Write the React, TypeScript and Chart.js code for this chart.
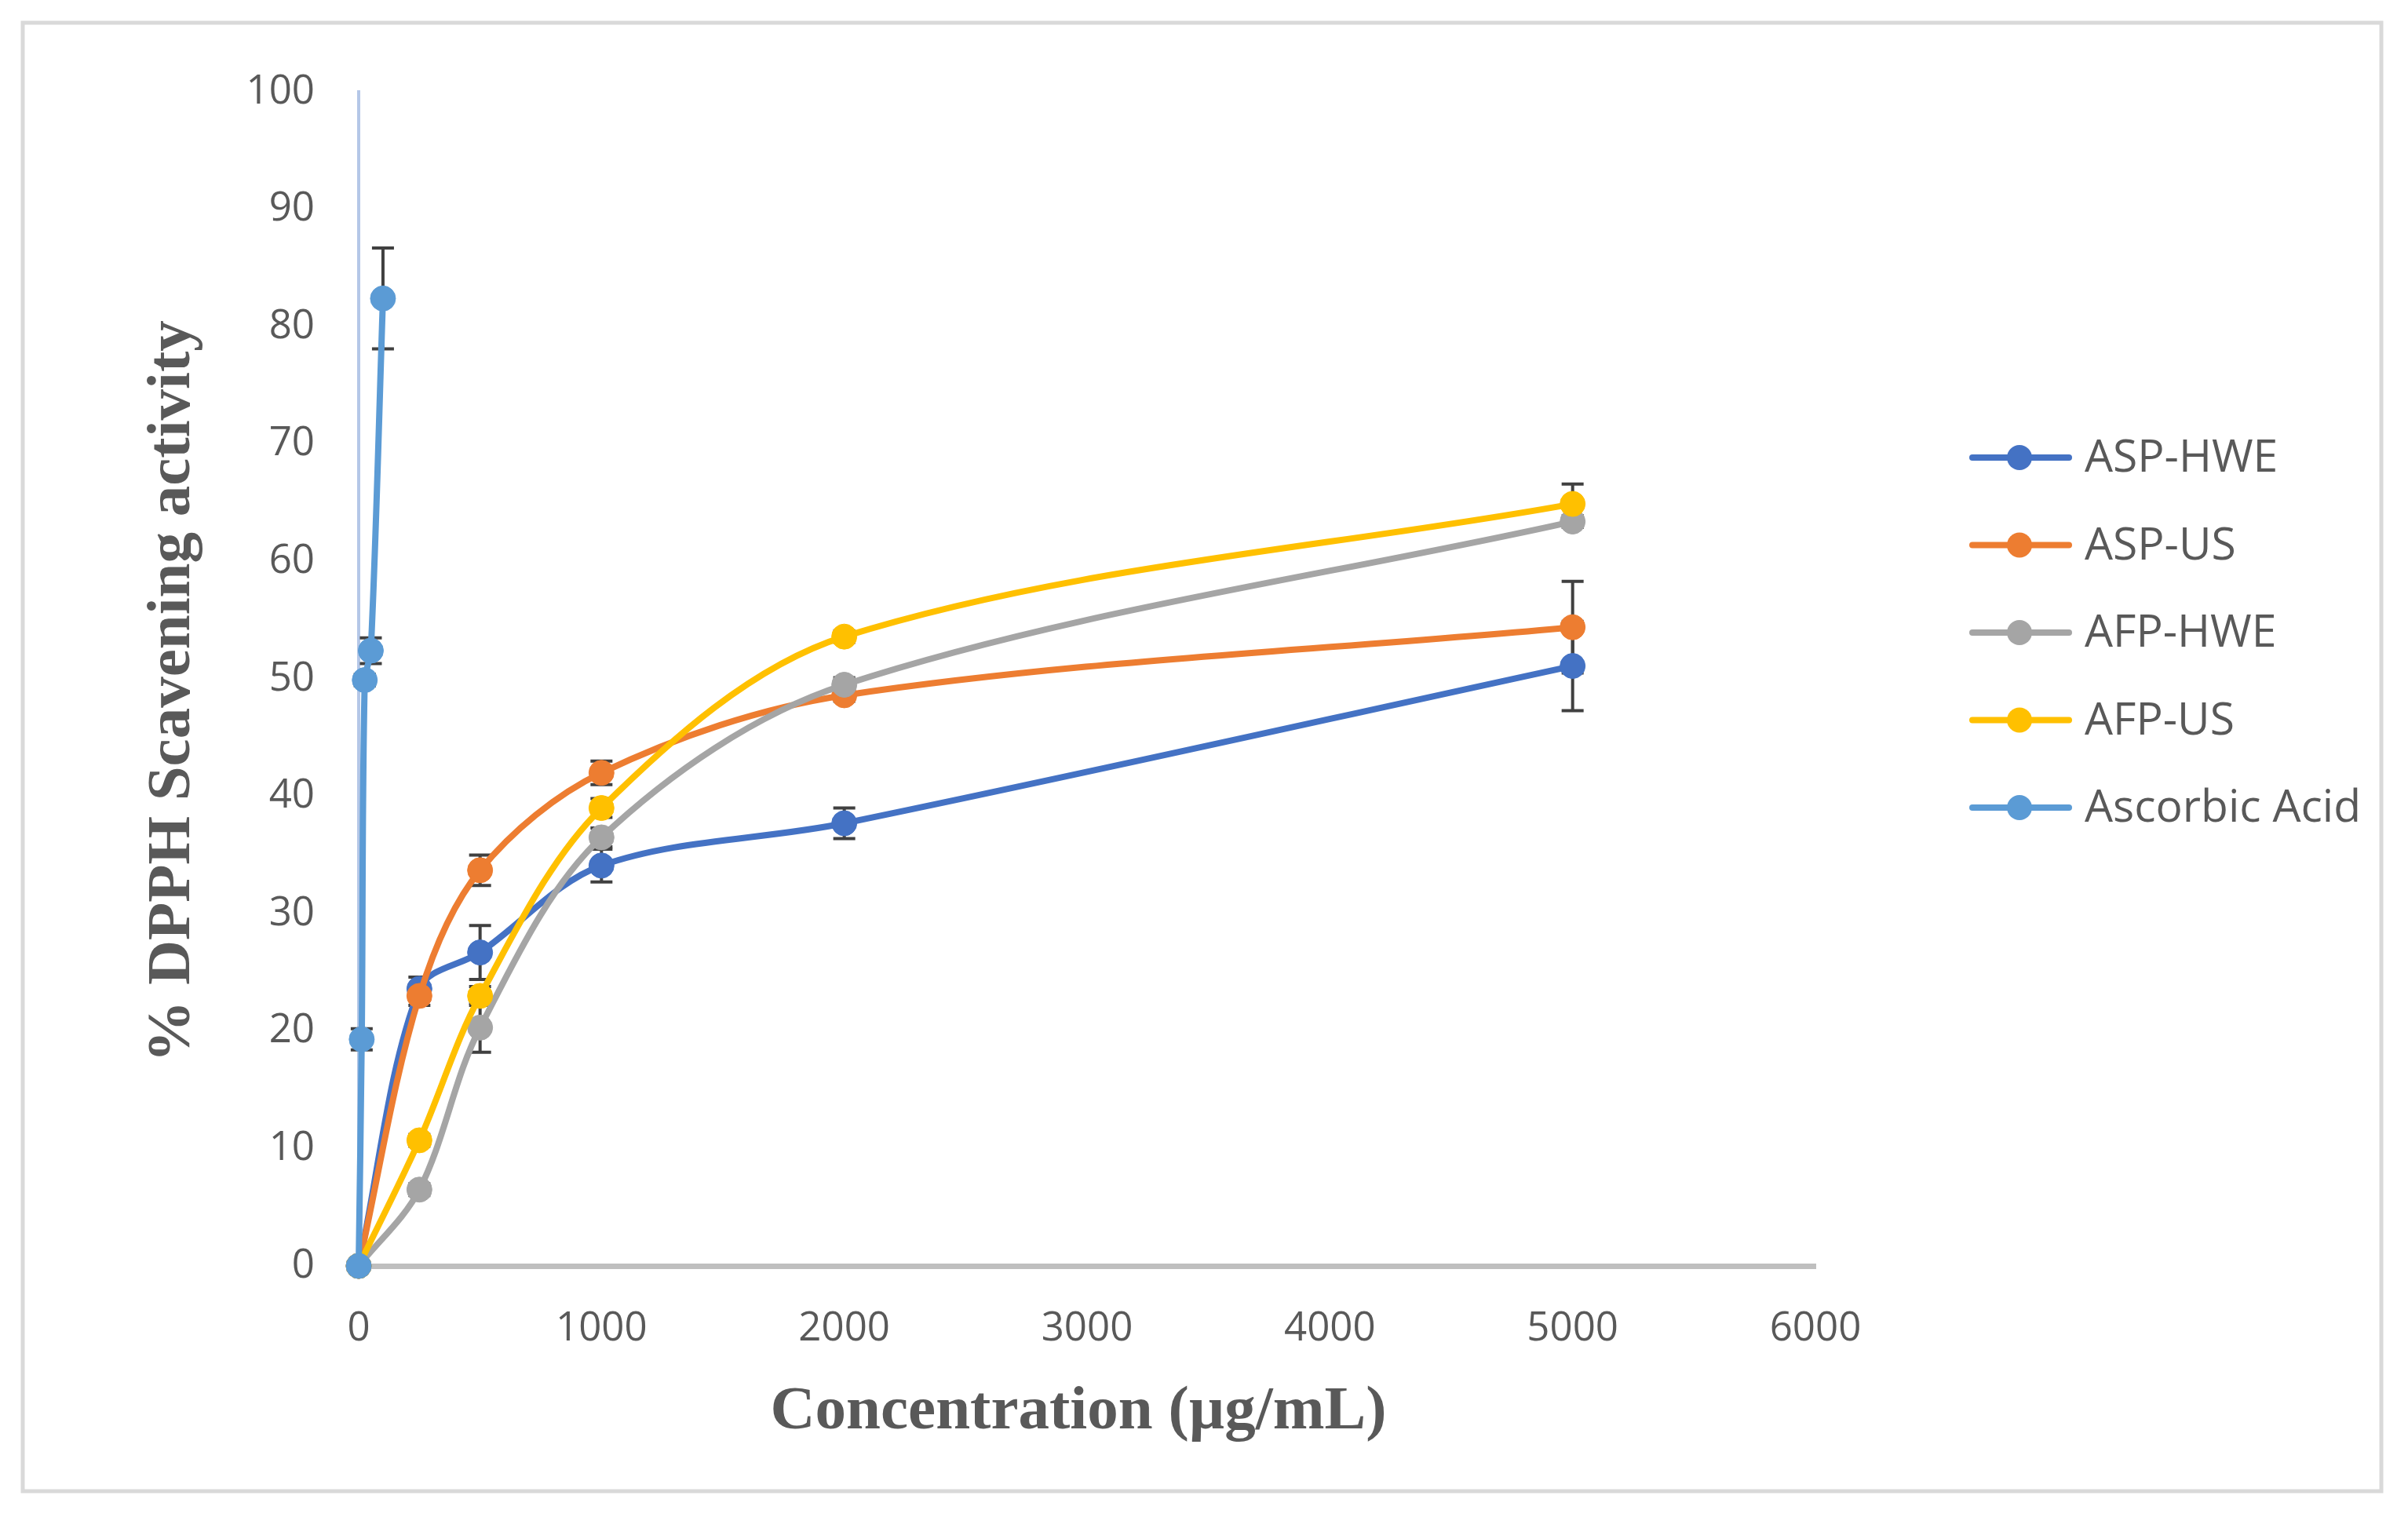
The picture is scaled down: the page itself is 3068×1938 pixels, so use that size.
import React, { useEffect, useRef } from "react";
import { Chart, registerables } from "chart.js";

Chart.register(...registerables);

// ---- data ----
const seriesNames = ["ASP-HWE", "ASP-US", "AFP-HWE", "AFP-US", "Ascorbic Acid"];
const seriesColors = ["#4472C4", "#ED7D31", "#A5A5A5", "#FFC000", "#5B9BD5"];

const extractConc = [0, 250, 500, 1000, 2000, 5000];
const ascorbicConc = [0, 12.5, 25, 50, 100];

const aspHwe = [0, 23.6, 26.7, 34.1, 37.7, 51.1];
const aspHweErr = [0, 1.0, 2.3, 1.4, 1.3, 3.8];
const aspUs = [0, 23.0, 33.7, 42.0, 48.6, 54.4];
const aspUsErr = [0, 0.8, 1.3, 1.0, 0.5, 3.9];
const afpHwe = [0, 6.5, 20.3, 36.5, 49.5, 63.4];
const afpHweErr = [0, 0.5, 2.1, 0.8, 0.6, 0.5];
const afpUs = [0, 10.7, 23.0, 39.0, 53.6, 64.9];
const afpUsErr = [0, 0.5, 0.8, 0.8, 0.5, 1.7];
const ascorbic = [0, 19.3, 49.9, 52.4, 82.4];
const ascorbicErr = [0, 0.9, 0.5, 1.1, 4.3];

const xAxisTitle = "Concentration (µg/mL)";
const yAxisTitle = "% DPPH Scavening activity";
const xMin = 0, xMax = 6000, xStep = 1000;
const yMin = 0, yMax = 100, yStep = 10;

const W = 3068, H = 1938;
const TEXT = "#595959";
const TITLE_FONT = "bold 79px 'Liberation Serif'";

const pts = (xs: number[], ys: number[]) => xs.map((x, i) => ({ x, y: ys[i] }));

const errorBarPlugin = {
  id: "errorBars",
  beforeDatasetsDraw(chart: any) {
    const ctx = chart.ctx;
    const xs = chart.scales.x, ys = chart.scales.y;
    ctx.save();
    ctx.strokeStyle = "#404040";
    ctx.lineWidth = 4;
    chart.data.datasets.forEach((ds: any) => {
      const errs: number[] = ds.errorBars || [];
      ds.data.forEach((p: any, i: number) => {
        const e = errs[i];
        if (!e) return;
        const px = xs.getPixelForValue(p.x);
        const top = ys.getPixelForValue(p.y + e);
        const bot = ys.getPixelForValue(p.y - e);
        ctx.beginPath();
        ctx.moveTo(px, top); ctx.lineTo(px, bot);
        ctx.moveTo(px - 14, top); ctx.lineTo(px + 14, top);
        ctx.moveTo(px - 14, bot); ctx.lineTo(px + 14, bot);
        ctx.stroke();
      });
    });
    ctx.restore();
  },
};

const framePlugin = {
  id: "frame",
  beforeDraw(chart: any) {
    const ctx = chart.ctx;
    ctx.save();
    ctx.fillStyle = "#ffffff";
    ctx.fillRect(0, 0, chart.width, chart.height);
    ctx.strokeStyle = "#D9D9D9";
    ctx.lineWidth = 5;
    ctx.strokeRect(29, 29, 3005, 1871);
    ctx.restore();
  },
};

const titlesPlugin = {
  id: "axisTitles",
  afterDraw(chart: any) {
    const ctx = chart.ctx;
    ctx.save();
    ctx.fillStyle = TEXT;
    ctx.font = TITLE_FONT;
    ctx.textAlign = "center";
    ctx.textBaseline = "middle";
    ctx.fillText(xAxisTitle, 1374, 1800);
    ctx.translate(221, 881);
    ctx.rotate(-Math.PI / 2);
    ctx.fillText(yAxisTitle, 0, 0);
    ctx.restore();
  },
};

const legendPlugin = {
  id: "customLegend",
  afterDraw(chart: any) {
    const ctx = chart.ctx;
    ctx.save();
    chart.data.datasets.forEach((ds: any, i: number) => {
      const y = 583 + i * 111.5;
      ctx.strokeStyle = ds.borderColor;
      ctx.lineWidth = 8;
      ctx.lineCap = "round";
      ctx.beginPath();
      ctx.moveTo(2513, y);
      ctx.lineTo(2636, y);
      ctx.stroke();
      ctx.fillStyle = ds.backgroundColor;
      ctx.beginPath();
      ctx.arc(2573, y, 16, 0, Math.PI * 2);
      ctx.fill();
      ctx.fillStyle = TEXT;
      ctx.font = "57px 'Open Sans'";
      ctx.textAlign = "left";
      ctx.textBaseline = "middle";
      ctx.fillText(ds.label, 2656, y + 2);
    });
    ctx.restore();
  },
};

export default function App() {
  const ref = useRef<HTMLCanvasElement | null>(null);
  useEffect(() => {
    document.body.style.margin = "0";
    if (!ref.current) return;
    const dataSets = [
      { ys: aspHwe, xs: extractConc, err: aspHweErr },
      { ys: aspUs, xs: extractConc, err: aspUsErr },
      { ys: afpHwe, xs: extractConc, err: afpHweErr },
      { ys: afpUs, xs: extractConc, err: afpUsErr },
      { ys: ascorbic, xs: ascorbicConc, err: ascorbicErr },
    ].map((s, i) => ({
      label: seriesNames[i],
      data: pts(s.xs, s.ys),
      errorBars: s.err,
      borderColor: seriesColors[i],
      backgroundColor: seriesColors[i],
      pointBackgroundColor: seriesColors[i],
      pointBorderColor: seriesColors[i],
      borderWidth: 8,
      pointRadius: 16,
      pointBorderWidth: 1,
      tension: 0.33,
      fill: false,
      clip: false as any,
      order: seriesNames.length - i,
    }));

    const chart = new Chart(ref.current, {
      type: "line",
      data: { datasets: dataSets as any },
      options: {
        responsive: false,
        animation: false,
        devicePixelRatio: 1,
        layout: { padding: { left: 100, top: 117, right: 755, bottom: 60 } },
        plugins: { legend: { display: false }, tooltip: { enabled: false } },
        scales: {
          x: {
            type: "linear",
            min: xMin,
            max: xMax,
            afterFit: (s: any) => { s.height = 265; },
            grid: { display: false, drawTicks: false },
            border: { display: true, color: "#BFBFBF", width: 7 },
            ticks: {
              stepSize: xStep,
              padding: 50,
              color: TEXT,
              font: { family: "'Open Sans'", size: 51 },
              callback: (v: any) => String(v),
            },
            title: { display: false },
          },
          y: {
            type: "linear",
            min: yMin,
            max: yMax,
            afterFit: (s: any) => { s.width = 357; },
            grid: { display: false, drawTicks: false },
            border: { display: true, color: "#B4C7E7", width: 4 },
            ticks: {
              stepSize: yStep,
              padding: 56,
              color: TEXT,
              font: { family: "'Open Sans'", size: 51 },
              callback: (v: any) => String(v),
            },
            title: { display: false },
          },
        },
      },
      plugins: [framePlugin, errorBarPlugin, titlesPlugin, legendPlugin],
    });
    return () => chart.destroy();
  }, []);

  return (
    <div style={{ width: W, height: H, position: "relative" }}>
      <canvas ref={ref} width={W} height={H} style={{ display: "block", width: W, height: H }} />
    </div>
  );
}
